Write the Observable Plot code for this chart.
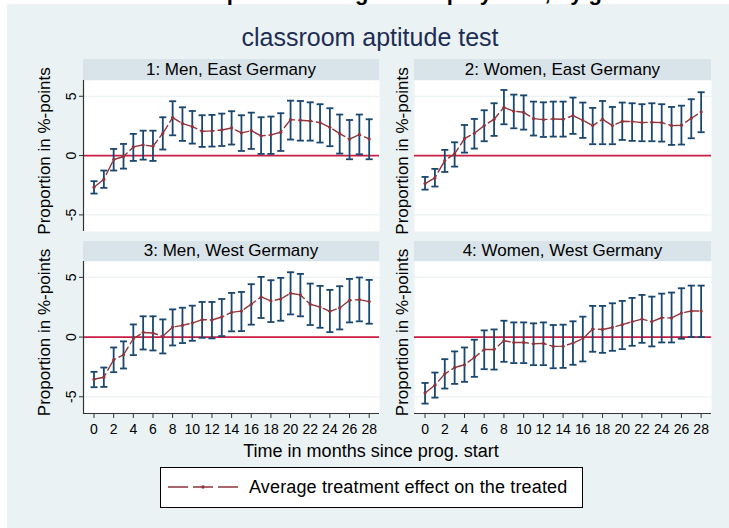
<!DOCTYPE html>
<html>
<head>
<meta charset="utf-8">
<script src="https://cdn.jsdelivr.net/npm/d3@7"></script>
<script src="https://cdn.jsdelivr.net/npm/@observablehq/plot@0.6"></script>
<style>
  body { margin: 0; background: #fff; font-family: Arial, "Liberation Sans", sans-serif; }
  #page { position: relative; width: 729px; height: 528px; overflow: hidden; background: #fff; }
  #bg { position: absolute; left: 7px; top: 4px; right: 0; bottom: 0; background: #eaf2f3; }
  .abs { position: absolute; white-space: nowrap; }
  .strip { position: absolute; background: #d9e4ea; color: #000; font-size: 17px; text-align: center; }
  .panel { position: absolute; }
</style>
</head>
<body>
<div id="page">
  <div id="bg"></div>
  <div class="abs" id="title" style="left:190px; top:-19px; font-weight:bold; font-size:22px; line-height:24px; color:#000;">Proportion in regular employment, by gender and region</div>
  <div class="abs" id="subtitle" style="left:0; width:740px; top:22px; text-align:center; font-size:25px; line-height:30px; color:#1e2d55;">classroom aptitude test</div>
  <div id="panels"></div>
  <div class="abs" id="xtitle" style="left:0; width:742px; top:440px; text-align:center; font-size:18px; line-height:22px; color:#000;">Time in months since prog. start</div>
  <div class="abs" id="legend" style="left:160px; top:467px; width:421px; height:39px; border:1px solid #000; background:#fff;">
    <svg width="80" height="39" style="position:absolute; left:0; top:0;">
      <line x1="7" x2="77" y1="19" y2="19" stroke="#90353b" stroke-width="1.6" stroke-dasharray="20,5"></line>
      <circle cx="42" cy="19" r="1.7" fill="#90353b"></circle>
    </svg>
    <div class="abs" style="left:88px; top:8px; font-size:18px; line-height:22px; color:#000; letter-spacing:0.15px;">Average treatment effect on the treated</div>
  </div>
</div>
<script>
// ---------- data ----------
const months = [0,1,2,3,4,5,6,7,8,9,10,11,12,13,14,15,16,17,18,19,20,21,22,23,24,25,26,27,28];
const panelTitles = ["1: Men, East Germany", "2: Women, East Germany", "3: Men, West Germany", "4: Women, West Germany"];
const yTitle = "Proportion in %-points";
const yTickValues = [-5, 0, 5];
const yTickLabels = ["-5", "0", "5"];
const xTickValues = [0,2,4,6,8,10,12,14,16,18,20,22,24,26,28];

const menEastEst = [-2.67,-2.00,-0.34,-0.08,0.73,0.90,0.79,1.88,3.20,2.70,2.44,2.05,2.08,2.16,2.33,1.91,2.10,1.66,1.74,1.97,3.03,2.98,2.92,2.78,2.39,1.85,1.38,1.77,1.40];
const menEastHi  = [-2.16,-1.26,0.56,0.98,1.83,2.10,2.10,3.23,4.58,4.07,3.76,3.40,3.43,3.54,3.74,3.40,3.62,3.23,3.29,3.57,4.63,4.60,4.49,4.33,3.99,3.46,3.00,3.46,3.06];
const menEastLo  = [-3.20,-2.72,-1.26,-1.10,-0.45,-0.34,-0.45,0.51,1.71,1.24,1.01,0.73,0.76,0.81,0.93,0.39,0.56,0.14,0.14,0.39,1.35,1.26,1.26,1.10,0.79,0.17,-0.31,0.11,-0.31];

const womenEastEst = [-2.36,-1.88,-0.42,0.14,1.43,1.88,2.53,3.06,4.07,3.74,3.65,3.12,3.03,3.09,3.06,3.37,2.98,2.53,3.06,2.53,2.89,2.87,2.78,2.81,2.78,2.53,2.56,3.15,3.68];
const womenEastHi  = [-1.80,-1.12,0.48,1.12,2.58,3.09,3.82,4.41,5.53,5.14,5.08,4.55,4.49,4.55,4.55,4.89,4.47,4.02,4.60,4.10,4.47,4.41,4.33,4.41,4.33,4.10,4.21,4.75,5.34];
const womenEastLo  = [-2.87,-2.61,-1.38,-0.93,0.25,0.59,1.21,1.66,2.64,2.30,2.19,1.69,1.57,1.60,1.60,1.83,1.49,0.96,0.96,0.96,1.32,1.24,1.21,1.21,1.18,0.90,0.93,1.46,1.97];

const menWestEst = [-3.53,-3.36,-1.90,-1.48,-0.14,0.39,0.34,0.06,0.84,0.98,1.18,1.46,1.43,1.68,2.07,2.18,2.75,3.36,3.03,3.19,3.67,3.53,2.75,2.52,2.16,2.44,3.08,3.14,2.97];
const menWestHi  = [-2.91,-2.55,-0.87,-0.36,1.06,1.74,1.74,1.48,2.32,2.46,2.63,2.94,2.94,3.19,3.70,3.78,4.43,5.04,4.76,4.96,5.43,5.29,4.48,4.29,3.95,4.26,4.87,4.99,4.79];
const menWestLo  = [-4.20,-4.17,-2.94,-2.63,-1.51,-1.04,-1.12,-1.37,-0.70,-0.50,-0.31,-0.06,-0.11,0.08,0.48,0.50,1.04,1.60,1.26,1.37,1.90,1.74,1.01,0.78,0.42,0.64,1.23,1.32,1.12];

const womenWestEst = [-4.68,-4.03,-3.08,-2.55,-2.32,-1.71,-1.04,-1.04,-0.31,-0.45,-0.45,-0.56,-0.53,-0.78,-0.76,-0.50,-0.14,0.67,0.64,0.81,1.04,1.29,1.51,1.29,1.62,1.60,2.02,2.18,2.18];
const womenWestHi  = [-3.84,-2.97,-1.85,-1.20,-0.87,-0.22,0.56,0.64,1.37,1.23,1.23,1.15,1.23,1.01,1.04,1.32,1.71,2.61,2.61,2.83,3.03,3.28,3.53,3.39,3.64,3.73,4.09,4.31,4.31];
const womenWestLo  = [-5.57,-5.07,-4.31,-3.92,-3.75,-3.33,-2.69,-2.72,-2.07,-2.18,-2.18,-2.35,-2.35,-2.61,-2.58,-2.32,-2.04,-1.23,-1.32,-1.15,-1.01,-0.73,-0.48,-0.78,-0.45,-0.45,-0.14,0.00,0.00];

// ---------- styling / layout ----------
const navy = "#1a476f", maroon = "#90353b", zeroRed = "#cb1e43", grid = "#eaf2f3";
const xDomain = [-1.07, 29.05];
const yDomain = [-6.4, 6.33];
const FONT = "Arial, 'Liberation Sans', sans-serif";

const panels = [
  {title: panelTitles[0], est: menEastEst, hi: menEastHi, lo: menEastLo, plotLeft: 83, plotRight: 379, plotTop: 80, plotH: 151, stripTop: 59, left: true, bottom: false},
  {title: panelTitles[1], est: womenEastEst, hi: womenEastHi, lo: womenEastLo, plotLeft: 414, plotRight: 711, plotTop: 80, plotH: 151, stripTop: 59, left: false, bottom: false},
  {title: panelTitles[2], est: menWestEst, hi: menWestHi, lo: menWestLo, plotLeft: 83, plotRight: 379, plotTop: 261, plotH: 152, stripTop: 241, left: true, bottom: true},
  {title: panelTitles[3], est: womenWestEst, hi: womenWestHi, lo: womenWestLo, plotLeft: 414, plotRight: 711, plotTop: 261, plotH: 152, stripTop: 241, left: false, bottom: true}
];

const host = document.getElementById("panels");
const capHalf = 0.36;

for (const p of panels) {
  const rows = months.map((m, i) => ({m, est: p.est[i], hi: p.hi[i], lo: p.lo[i]}));
  const svgLeft = p.left ? 25 : 388;
  const marginLeft = p.plotLeft - svgLeft;
  const marginBottom = p.bottom ? 40 : 0;
  const titleX = p.left ? 44 : 402;

  const marks = [
    Plot.frame({fill: "white", stroke: "none"}),
    Plot.ruleY(yTickValues, {stroke: grid, strokeWidth: 1.2}),
    Plot.ruleY([0], {stroke: zeroRed, strokeWidth: 1.6}),
    Plot.ruleX(rows, {x: "m", y1: "lo", y2: "hi", stroke: navy, strokeWidth: 1.8}),
    Plot.link(rows, {x1: d => d.m - capHalf, x2: d => d.m + capHalf, y1: "hi", y2: "hi", stroke: navy, strokeWidth: 1.8}),
    Plot.link(rows, {x1: d => d.m - capHalf, x2: d => d.m + capHalf, y1: "lo", y2: "lo", stroke: navy, strokeWidth: 1.8}),
    Plot.line(rows, {x: "m", y: "est", stroke: maroon, strokeWidth: 1.4, strokeDasharray: "14,4"}),
    Plot.dot(rows, {x: "m", y: "est", r: 1.6, fill: maroon, stroke: "none"}),
    Plot.text([yTitle], {frameAnchor: "left", textAnchor: "middle", lineAnchor: "middle", rotate: -90, dx: titleX - p.plotLeft, dy: -5, fontSize: 17, fill: "#000"})
  ];
  if (p.left) {
    marks.push(Plot.ruleX([xDomain[0]], {stroke: "#333", strokeWidth: 1.2}));
    marks.push(Plot.axisY(yTickValues, {tickSize: 4, tickFormat: () => "", label: null, stroke: "#333"}));
    marks.push(Plot.text(yTickValues, {y: d => d, text: (d, i) => yTickLabels[i], frameAnchor: "left", textAnchor: "middle", lineAnchor: "middle", rotate: -90, dx: -12, fontSize: 14, fill: "#000"}));
  }
  if (p.bottom) {
    marks.push(Plot.ruleY([yDomain[0]], {stroke: "#333", strokeWidth: 1.2}));
    marks.push(Plot.axisX(xTickValues, {tickSize: 5, tickPadding: 6, fontSize: 14, label: null, stroke: "#333", fill: "#000"}));
  }

  const chart = Plot.plot({
    width: p.plotRight - svgLeft,
    height: p.plotH + marginBottom,
    marginLeft, marginRight: 0, marginTop: 0, marginBottom,
    x: {domain: xDomain, axis: null},
    y: {domain: yDomain, axis: null},
    style: {fontFamily: FONT, background: "transparent", overflow: "visible", color: "#000"},
    marks
  });
  const wrap = document.createElement("div");
  wrap.className = "panel";
  wrap.style.left = svgLeft + "px";
  wrap.style.top = p.plotTop + "px";
  wrap.appendChild(chart);
  host.appendChild(wrap);

  const strip = document.createElement("div");
  strip.className = "strip";
  strip.style.left = p.plotLeft + "px";
  strip.style.width = (p.plotRight - p.plotLeft) + "px";
  strip.style.top = p.stripTop + "px";
  strip.style.height = (p.plotTop - p.stripTop) + "px";
  strip.style.lineHeight = (p.plotTop - p.stripTop) + "px";
  strip.textContent = p.title;
  host.appendChild(strip);
}
</script>
</body>
</html>
